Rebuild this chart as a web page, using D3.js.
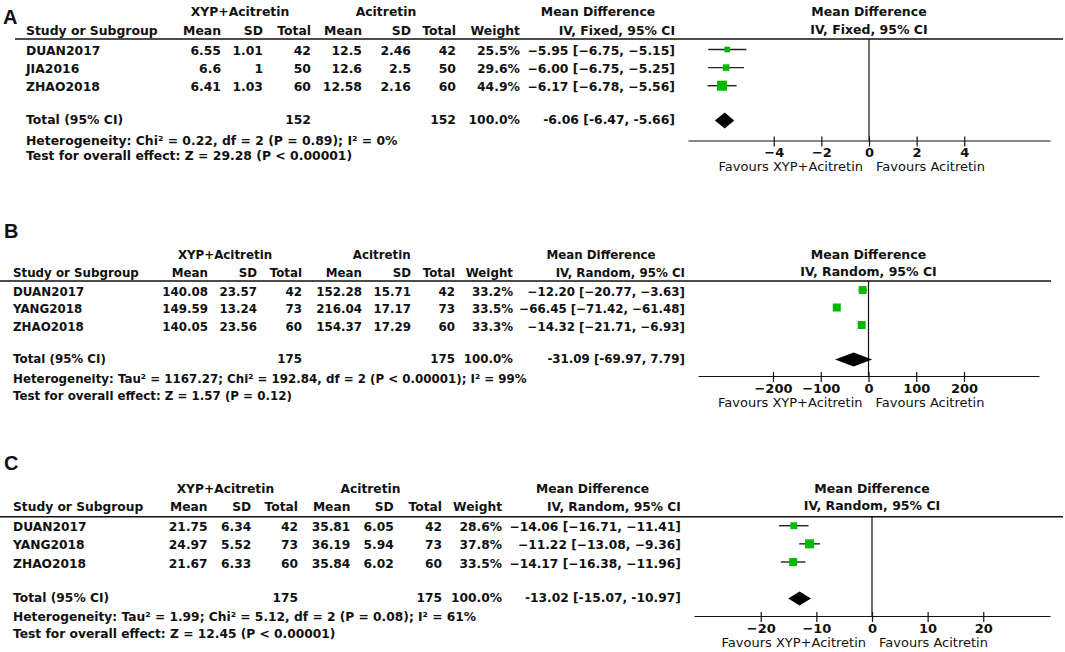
<!DOCTYPE html>
<html>
<head>
<meta charset="utf-8">
<script src="https://cdn.jsdelivr.net/npm/d3@7"></script>
<style>
  body { margin: 0; background: #fff; }
  svg text { font-family: "DejaVu Sans", sans-serif; fill: #111; }
</style>
</head>
<body>
<svg id="forest" width="1065" height="652"></svg>
<script>
// ---- panel A: fixed effect ----
const studiesA = ["DUAN2017", "JIA2016", "ZHAO2018"];
const xypA = [[6.55, 1.01, 42], [6.6, 1, 50], [6.41, 1.03, 60]];
const acitA = [[12.5, 2.46, 42], [12.6, 2.5, 50], [12.58, 2.16, 60]];
const weightA = [25.5, 29.6, 44.9];
const mdA = [[-5.95, -6.75, -5.15], [-6.00, -6.75, -5.25], [-6.17, -6.78, -5.56]];
const totalNA = [152, 152];
const totalMdA = [-6.06, -6.47, -5.66];
const hetA = "Heterogeneity: Chi² = 0.22, df = 2 (P = 0.89); I² = 0%";
const effectA = "Test for overall effect: Z = 29.28 (P < 0.00001)";
const ticksA = [-4, -2, 0, 2, 4];

// ---- panel B: random effect ----
const studiesB = ["DUAN2017", "YANG2018", "ZHAO2018"];
const xypB = [[140.08, 23.57, 42], [149.59, 13.24, 73], [140.05, 23.56, 60]];
const acitB = [[152.28, 15.71, 42], [216.04, 17.17, 73], [154.37, 17.29, 60]];
const weightB = [33.2, 33.5, 33.3];
const mdB = [[-12.20, -20.77, -3.63], [-66.45, -71.42, -61.48], [-14.32, -21.71, -6.93]];
const totalNB = [175, 175];
const totalMdB = [-31.09, -69.97, 7.79];
const hetB = "Heterogeneity: Tau² = 1167.27; Chi² = 192.84, df = 2 (P < 0.00001); I² = 99%";
const effectB = "Test for overall effect: Z = 1.57 (P = 0.12)";
const ticksB = [-200, -100, 0, 100, 200];

// ---- panel C: random effect ----
const studiesC = ["DUAN2017", "YANG2018", "ZHAO2018"];
const xypC = [[21.75, 6.34, 42], [24.97, 5.52, 73], [21.67, 6.33, 60]];
const acitC = [[35.81, 6.05, 42], [36.19, 5.94, 73], [35.84, 6.02, 60]];
const weightC = [28.6, 37.8, 33.5];
const mdC = [[-14.06, -16.71, -11.41], [-11.22, -13.08, -9.36], [-14.17, -16.38, -11.96]];
const totalNC = [175, 175];
const totalMdC = [-13.02, -15.07, -10.97];
const hetC = "Heterogeneity: Tau² = 1.99; Chi² = 5.12, df = 2 (P = 0.08); I² = 61%";
const effectC = "Test for overall effect: Z = 12.45 (P < 0.00001)";
const ticksC = [-20, -10, 0, 10, 20];

const colHeads = ["Mean", "SD", "Total", "Mean", "SD", "Total", "Weight"];

// layout of each panel (pixel positions)
const panels = [
  { label: "A", labelY: 24, labelX: 3, method: "IV, Fixed, 95% CI", fs: 12.4,
    studies: studiesA, xyp: xypA, acit: acitA, weight: weightA, md: mdA,
    totalN: totalNA, totalMd: totalMdA, het: hetA, effect: effectA, ticks: ticksA,
    head1: 16, head2: 35, lineY: 39, lineX: [15, 1063], studyX: 26,
    groupX: [240, 386, 598],
    colX: [221, 263, 311, 362, 411, 456, 520, 675],
    rows: [49.5, 85.7], totalY: 124, hetY: 145, effY: 160,
    domain: [-7.6, 7.6], range: [688, 1050], axisY: 140.5, boxMax: 10, dia: 8 },
  { label: "B", labelY: 238, labelX: 4, method: "IV, Random, 95% CI", fs: 11.85,
    studies: studiesB, xyp: xypB, acit: acitB, weight: weightB, md: mdB,
    totalN: totalNB, totalMd: totalMdB, het: hetB, effect: effectB, ticks: ticksB,
    head1: 259, head2: 277, lineY: 281, lineX: [0, 1051], studyX: 13,
    groupX: [225, 381.7, 601],
    colX: [208, 257, 302, 362, 411, 455, 513, 685],
    rows: [290, 325], totalY: 363, hetY: 382.5, effY: 400,
    domain: [-357, 357], range: [698, 1039], axisY: 376, boxMax: 8, dia: 7 },
  { label: "C", labelY: 470, labelX: 4, method: "IV, Random, 95% CI", fs: 12.25,
    studies: studiesC, xyp: xypC, acit: acitC, weight: weightC, md: mdC,
    totalN: totalNC, totalMd: totalMdC, het: hetC, effect: effectC, ticks: ticksC,
    head1: 493, head2: 511, lineY: 516.7, lineX: [0, 1063], studyX: 13,
    groupX: [225.4, 370.5, 592.6],
    colX: [207.6, 251.3, 298, 350.4, 393.8, 442, 502, 680.8],
    rows: [525.7, 562], totalY: 602, hetY: 620.5, effY: 638,
    domain: [-32, 32], range: [694, 1050], axisY: 616, boxMax: 9, dia: 7 }
];

const svg = d3.select("#forest");
svg.append("rect").attr("width", 1065).attr("height", 652).attr("fill", "#fff");

const f2 = d3.format(".2f");
const f1 = d3.format(".1f");
const ciText = (v, hyphen) => {
  const s = `${f2(v[0])} [${f2(v[1])}, ${f2(v[2])}]`;
  return hyphen ? s.replace(/\u2212/g, "-") : s;
};

function txt(g, x, y, s, anchor, size, weight) {
  return g.append("text")
    .attr("x", x).attr("y", y)
    .attr("text-anchor", anchor || "start")
    .style("font-size", size + "px")
    .style("font-weight", weight || "bold")
    .text(s);
}

panels.forEach(p => {
  const g = svg.append("g");
  const fs = p.fs;

  // panel letter
  g.append("text").attr("x", p.labelX).attr("y", p.labelY)
    .style("font-family", "'Liberation Sans', Arial, sans-serif")
    .style("font-size", "20px").style("font-weight", "bold").text(p.label);

  // table header
  txt(g, p.groupX[0], p.head1, "XYP+Acitretin", "middle", fs).attr("fill", "#222");
  txt(g, p.groupX[1], p.head1, "Acitretin", "middle", fs).attr("fill", "#222");
  txt(g, p.groupX[2], p.head1, "Mean Difference", "middle", fs);
  txt(g, p.studyX, p.head2, "Study or Subgroup", "start", fs);
  colHeads.forEach((h, i) => txt(g, p.colX[i], p.head2, h, "end", fs));
  txt(g, p.colX[7], p.head2, p.method, "end", fs);

  g.append("line")
    .attr("x1", p.lineX[0]).attr("x2", p.lineX[1])
    .attr("y1", p.lineY).attr("y2", p.lineY)
    .attr("stroke", "#111").attr("stroke-width", 1.6);

  // scales
  const x = d3.scaleLinear().domain(p.domain).range(p.range);
  const y = d3.scalePoint().domain(p.studies).range(p.rows);
  const box = d3.scaleLinear().domain([0, d3.max(p.weight)]).range([0, p.boxMax]);

  // study rows
  p.studies.forEach((s, i) => {
    const yb = y(s) + 5.5;
    txt(g, p.studyX, yb, s, "start", fs);
    const vals = [p.xyp[i][0], p.xyp[i][1], p.xyp[i][2],
                  p.acit[i][0], p.acit[i][1], p.acit[i][2]];
    vals.forEach((v, j) => txt(g, p.colX[j], yb, String(v), "end", fs));
    txt(g, p.colX[6], yb, f1(p.weight[i]) + "%", "end", fs);
    txt(g, p.colX[7], yb, ciText(p.md[i]), "end", fs);
  });

  // total row + footnotes
  txt(g, p.studyX, p.totalY, "Total (95% CI)", "start", fs);
  txt(g, p.colX[2], p.totalY, String(p.totalN[0]), "end", fs);
  txt(g, p.colX[5], p.totalY, String(p.totalN[1]), "end", fs);
  txt(g, p.colX[6], p.totalY, "100.0%", "end", fs);
  txt(g, p.colX[7], p.totalY, ciText(p.totalMd, true), "end", fs);
  txt(g, p.studyX, p.hetY, p.het, "start", fs);
  txt(g, p.studyX, p.effY, p.effect, "start", fs);

  // plot header
  txt(g, x(0), p.head1, "Mean Difference", "middle", 12.5);
  txt(g, x(0), p.head2 - 1, p.method, "middle", 12.5);

  // zero line
  g.append("line")
    .attr("x1", x(0)).attr("x2", x(0))
    .attr("y1", p.lineY).attr("y2", p.axisY)
    .attr("stroke", "#111").attr("stroke-width", 1.2);

  // axis
  const ax = g.append("g")
    .attr("transform", `translate(0,${p.axisY})`)
    .call(d3.axisBottom(x).tickValues(p.ticks).tickSizeOuter(0).tickSizeInner(6).tickPadding(1.5));
  ax.select(".domain").attr("stroke", "#111").attr("stroke-width", 1.2);
  ax.selectAll(".tick line").attr("y1", -4).attr("stroke", "#111").attr("stroke-width", 1.2);
  ax.selectAll(".tick text")
    .style("font-family", "'DejaVu Sans', sans-serif")
    .style("font-size", "13px").style("font-weight", "bold").attr("fill", "#111");

  txt(g, x(0) - 6, p.axisY + 30.5, "Favours XYP+Acitretin", "end", 13, "normal");
  txt(g, x(0) + 7, p.axisY + 30.5, "Favours Acitretin", "start", 13, "normal");

  // CI whiskers and weight boxes
  g.selectAll(".ci").data(p.md).join("line")
    .attr("x1", d => x(d[1])).attr("x2", d => x(d[2]))
    .attr("y1", (d, i) => y(p.studies[i])).attr("y2", (d, i) => y(p.studies[i]))
    .attr("stroke", "#222").attr("stroke-width", 1.4);

  g.selectAll(".box").data(p.md).join("rect")
    .attr("x", (d, i) => x(d[0]) - box(p.weight[i]) / 2)
    .attr("y", (d, i) => y(p.studies[i]) - box(p.weight[i]) / 2)
    .attr("width", (d, i) => box(p.weight[i]))
    .attr("height", (d, i) => box(p.weight[i]))
    .attr("fill", "#00b900");

  // pooled diamond
  const t = p.totalMd, dy = p.totalY - 3.5;
  g.append("path")
    .attr("d", `M${x(t[1])},${dy} L${x(t[0])},${dy - p.dia} L${x(t[2])},${dy} L${x(t[0])},${dy + p.dia} Z`)
    .attr("fill", "#000");
});
</script>
</body>
</html>
